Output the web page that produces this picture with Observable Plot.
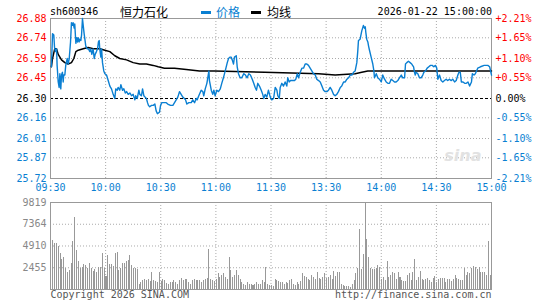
<!DOCTYPE html>
<html><head><meta charset="utf-8">
<script src="https://cdn.jsdelivr.net/npm/d3@7"></script>
<script src="https://cdn.jsdelivr.net/npm/@observablehq/plot@0.6"></script>
<style>
body{margin:0;background:#fff;}
#wrap{position:relative;width:545px;height:300px;overflow:hidden;background:#fff;}
#wrap svg{display:block;}
.hd{position:absolute;white-space:nowrap;}
.mono{font-family:"DejaVu Sans Mono",monospace;font-size:10px;line-height:12px;top:6px;color:#000;}
.cjk{font-family:"Noto Sans CJK SC",sans-serif;font-size:12px;line-height:16px;top:4px;}
.dash{height:3px;width:10px;top:11px;}
</style></head><body><div id="wrap"></div>
<script>
// ---------- data ----------
const stockCode = "sh600346";
const stockName = "恒力石化";
const legendNames = ["价格", "均线"];
const stamp = "2026-01-22 15:00:00";
const prevClose = 26.30;
const priceLabels = ["26.88","26.74","26.59","26.45","26.30","26.16","26.01","25.87","25.72"];
const pctLabels = ["+2.21%","+1.65%","+1.10%","+0.55%","0.00%","-0.55%","-1.10%","-1.65%","-2.21%"];
const timeLabels = ["09:30","10:00","10:30","11:00","11:30","13:30","14:00","14:30","15:00"];
const timeTicks = [0,30,60,90,120,150,180,210,240]; // trading minutes since 09:30
const volLabels = ["9819","7364","4910","2455"];
const copyright = "Copyright 2026 SINA.COM";
const siteUrl = "http://finance.sina.com.cn";

const priceT = [0.5,1.1,1.8,2.2,2.7,3.3,3.6,4.2,4.7,5.1,5.6,6.0,6.5,6.9,7.2,7.8,8.3,9.1,9.6,10.2,10.9,11.4,12.0,12.3,12.9,13.2,13.8,14.3,14.7,15.1,15.6,15.9,16.5,16.9,17.4,17.8,18.3,18.9,19.2,20.0,20.7,21.4,21.9,22.5,23.2,23.8,24.3,25.0,25.6,26.1,26.5,26.8,27.4,27.8,28.3,29.0,29.6,30.5,31.4,32.3,33.2,34.1,35.0,35.5,36.3,36.8,37.7,38.3,39.2,39.9,40.7,41.4,42.3,43.2,44.1,45.0,45.9,46.4,47.2,48.1,48.6,49.5,50.1,50.8,51.5,52.2,52.8,53.3,54.0,55.0,55.9,56.8,57.5,58.2,59.3,59.9,60.6,61.7,63.0,63.8,65.3,66.6,67.5,68.4,69.3,70.2,71.1,72.0,72.9,73.5,74.2,75.3,76.6,77.4,78.4,79.3,79.8,80.7,82.0,82.9,83.4,84.2,85.1,85.6,86.2,86.5,87.5,88.3,88.9,89.6,90.5,91.4,92.4,93.2,94.1,95.1,96.2,96.9,97.6,98.3,98.9,99.6,100.1,101.1,101.6,102.3,103.2,104.1,105.2,106.1,107.0,107.9,108.8,109.8,110.6,111.4,112.1,112.8,113.7,114.7,115.5,116.1,116.8,117.7,118.6,119.6,120.4,121.4,122.3,123.2,123.7,124.5,125.0,125.9,126.8,127.7,128.6,129.1,129.9,130.6,131.7,132.8,133.5,134.3,135.0,135.9,136.8,137.7,138.6,139.5,140.4,141.3,142.2,143.1,144.1,144.9,145.9,146.8,147.7,148.6,149.5,150.4,151.3,152.2,153.1,154.0,154.9,155.8,156.7,157.7,158.5,159.5,160.4,161.3,162.2,163.1,164.0,164.9,165.8,166.7,167.2,167.6,168.5,169.4,170.3,170.9,171.3,171.6,172.1,172.7,173.1,173.6,174.5,175.4,176.0,176.3,177.3,178.1,179.0,180.0,180.8,181.8,182.7,183.6,184.5,185.4,186.3,187.2,188.1,189.0,189.9,190.9,191.7,192.7,193.2,193.9,194.8,195.7,196.6,197.6,198.1,198.5,199.0,199.9,200.8,201.7,202.6,203.2,204.1,205.0,205.9,206.8,207.7,208.6,209.5,210.2,210.8,211.7,212.6,213.5,214.4,215.3,216.2,217.1,218.1,218.9,219.9,220.8,221.7,222.3,223.0,223.6,224.5,225.4,226.3,227.2,228.1,229.1,229.6,230.5,231.2,232.5,234.0,236.0,238.0,239.0,240.0];
const priceV = [26.53,26.77,26.76,26.67,26.64,26.66,26.54,26.42,26.38,26.48,26.37,26.47,26.49,26.42,26.47,26.47,26.54,26.59,26.55,26.59,26.71,26.85,26.83,26.85,26.81,26.84,26.70,26.74,26.71,26.74,26.71,26.73,26.72,26.76,26.88,26.83,26.77,26.71,26.68,26.66,26.66,26.64,26.66,26.62,26.66,26.59,26.62,26.64,26.66,26.71,26.72,26.66,26.60,26.66,26.56,26.50,26.48,26.47,26.43,26.39,26.37,26.33,26.30,26.37,26.36,26.38,26.36,26.40,26.36,26.37,26.34,26.35,26.33,26.34,26.32,26.33,26.29,26.32,26.30,26.36,26.33,26.32,26.37,26.32,26.31,26.30,26.27,26.25,26.24,26.25,26.25,26.26,26.21,26.19,26.20,26.25,26.27,26.27,26.27,26.26,26.25,26.25,26.27,26.29,26.31,26.35,26.33,26.31,26.30,26.29,26.26,26.27,26.27,26.29,26.27,26.30,26.29,26.32,26.36,26.35,26.32,26.37,26.41,26.45,26.50,26.43,26.36,26.33,26.36,26.32,26.36,26.35,26.37,26.41,26.45,26.50,26.56,26.59,26.60,26.60,26.58,26.55,26.60,26.61,26.53,26.48,26.45,26.45,26.48,26.47,26.45,26.48,26.47,26.44,26.41,26.38,26.36,26.41,26.39,26.36,26.33,26.30,26.33,26.31,26.36,26.31,26.29,26.30,26.38,26.36,26.32,26.30,26.38,26.41,26.39,26.42,26.39,26.45,26.42,26.43,26.43,26.43,26.44,26.48,26.45,26.49,26.52,26.52,26.55,26.55,26.54,26.52,26.50,26.48,26.47,26.44,26.43,26.42,26.39,26.36,26.35,26.35,26.36,26.38,26.36,26.33,26.32,26.33,26.35,26.38,26.39,26.42,26.42,26.44,26.45,26.47,26.47,26.49,26.50,26.56,26.64,26.72,26.73,26.79,26.83,26.81,26.82,26.78,26.73,26.71,26.68,26.65,26.60,26.55,26.50,26.45,26.48,26.45,26.44,26.42,26.47,26.44,26.42,26.41,26.41,26.44,26.43,26.42,26.42,26.43,26.45,26.47,26.45,26.45,26.55,26.56,26.57,26.56,26.55,26.53,26.49,26.47,26.49,26.48,26.45,26.45,26.47,26.49,26.50,26.52,26.53,26.54,26.54,26.53,26.54,26.52,26.44,26.47,26.43,26.42,26.43,26.44,26.43,26.44,26.43,26.44,26.42,26.43,26.47,26.49,26.49,26.42,26.42,26.41,26.41,26.42,26.39,26.42,26.48,26.47,26.48,26.52,26.53,26.54,26.54,26.53,26.47];

const avgT = [0.5,1.1,2.3,3.3,4.2,5.1,6.0,7.8,9.6,11.4,12.7,13.8,15.1,17.8,20.5,23.2,26.8,29.6,32.3,35.0,37.7,41.4,45.0,48.6,52.2,55.9,58.6,62.0,67.5,73.9,81.1,89.3,116.5,145.9,154.9,165.8,169.4,172.7,230.7,240.0];
const avgV = [26.53,26.59,26.66,26.66,26.62,26.60,26.58,26.56,26.55,26.56,26.59,26.64,26.65,26.66,26.67,26.66,26.66,26.65,26.64,26.61,26.59,26.58,26.56,26.55,26.55,26.54,26.53,26.52,26.52,26.51,26.50,26.50,26.49,26.48,26.47,26.48,26.49,26.50,26.50,26.50];

const volumes = [1636,5532,5143,5143,4870,4091,3428,3584,2416,1870,2143,2922,5376,8104,4364,3117,2416,2532,2805,2727,2338,2922,2338,2026,2260,1870,2454,2454,4091,2416,1480,3818,2805,2805,2649,4091,4208,2143,2338,2922,2922,3195,3312,3818,2727,2338,2338,2260,584,779,974,1169,974,1169,857,1870,974,857,779,1948,857,1169,974,701,584,779,779,974,779,584,974,1247,974,1169,1091,779,584,974,1091,974,974,974,779,974,1091,1247,4480,1169,974,857,1169,1753,1364,1558,1753,1364,1169,3662,2143,1364,1558,2143,1558,1169,779,584,468,779,584,584,468,584,779,584,584,974,779,2454,584,468,468,390,1169,974,857,779,779,584,779,701,974,1169,584,468,779,584,857,1753,1480,1364,1169,974,1558,1364,1169,1948,1247,1169,1364,1753,1247,1364,1558,1169,2026,1480,1870,1870,584,468,312,390,312,195,584,974,1753,2338,6818,2260,3896,9819,5649,3623,2338,2260,2260,2338,2727,2532,1169,1364,974,3195,1364,1558,1870,1753,1169,1870,1364,974,857,857,1558,1753,974,1870,3390,974,1364,2026,1169,974,1169,1247,974,779,1247,1480,779,1169,1247,1247,1247,779,1091,1169,857,1091,1558,1247,1169,974,974,2338,1558,1870,1753,2338,2649,2532,2260,2532,1870,1948,1870,1636,5376,1636];

// ---------- styles ----------
const W = 545;
const blue = "#0a7fd2", red = "#ff0000", gridC = "#aaaaaa", frameC = "#999999";
const mono = "DejaVu Sans Mono, monospace";
const colorOf = v => v > prevClose + 1e-9 ? red : (v < prevClose - 1e-9 ? blue : "#000000");
const priceRows = priceT.map((t, i) => ({t, v: priceV[i]}));
const avgRows = avgT.map((t, i) => ({t, v: avgV[i]}));
const pRows = priceLabels.map((s, i) => ({v: +s, label: s, pct: pctLabels[i]}));

const main = Plot.plot({
  width: W, height: 195,
  marginLeft: 50, marginRight: 54, marginTop: 18, marginBottom: 17,
  x: {domain: [timeTicks[0], timeTicks[timeTicks.length - 1]], axis: null},
  y: {domain: [+priceLabels[priceLabels.length - 1], +priceLabels[0]], axis: null},
  color: {type: "identity"},
  style: {fontFamily: mono, fontSize: "10px", background: "#fff", overflow: "visible"},
  marks: [
    Plot.ruleY(pRows.filter(d => d.v !== prevClose), {y: "v", stroke: gridC, strokeDasharray: "1,2"}),
    Plot.ruleX(timeTicks.slice(1, -1), {stroke: gridC, strokeDasharray: "1,2"}),
    Plot.ruleY([prevClose], {stroke: "#000", strokeDasharray: "3,2"}),
    Plot.text(["sina"], {frameAnchor: "bottom-right", dx: -10, dy: -18, fill: "#e2e2e2", fontSize: 16, fontWeight: "bold", fontStyle: "italic", fontFamily: "DejaVu Sans"}),
    Plot.frame({stroke: frameC}),
    Plot.line(avgRows, {x: "t", y: "v", stroke: "#000", strokeWidth: 1.5, curve: "linear"}),
    Plot.line(priceRows, {x: "t", y: "v", stroke: blue, strokeWidth: 1.4}),
    Plot.text(pRows, {y: "v", text: "label", frameAnchor: "left", textAnchor: "end", dx: -4, fill: d => colorOf(d.v)}),
    Plot.text(pRows, {y: "v", text: "pct", frameAnchor: "right", textAnchor: "start", dx: 4, fill: d => colorOf(d.v)}),
    Plot.text(timeLabels, {x: (d, i) => timeTicks[i], text: d => d, frameAnchor: "bottom", dy: 12.5, fill: blue})
  ]
});

const volRows = volumes.map((v, i) => ({i, v}));
const vol = Plot.plot({
  width: W, height: 105,
  marginLeft: 50, marginRight: 54, marginTop: 7, marginBottom: 11,
  x: {domain: [timeTicks[0], timeTicks[timeTicks.length - 1]], axis: null},
  y: {domain: [0, +volLabels[0]], axis: null},
  style: {fontFamily: mono, fontSize: "10px", background: "#fff", overflow: "visible"},
  marks: [
    Plot.ruleY(volLabels.slice(1).map(Number), {stroke: gridC, strokeDasharray: "1,2"}),
    Plot.ruleX(timeTicks.slice(1, -1), {stroke: gridC, strokeDasharray: "1,2"}),
    Plot.rectY(volRows, {x1: d => d.i + 0.2, x2: d => d.i + 0.75, y: "v", fill: "#999999", shapeRendering: "crispEdges"}),
    Plot.frame({stroke: frameC}),
    Plot.text(volLabels, {y: d => +d, text: d => d, frameAnchor: "left", textAnchor: "end", dx: -4, fill: "#888888"}),
    Plot.text([copyright], {frameAnchor: "bottom-left", textAnchor: "start", dy: 8, fill: "#555555"}),
    Plot.text([siteUrl], {frameAnchor: "bottom-right", textAnchor: "end", dy: 8, fill: "#555555"})
  ]
});

const wrap = document.getElementById("wrap");
wrap.appendChild(main);
wrap.appendChild(vol);

function addSpan(cls, text, style) {
  const s = document.createElement("div");
  s.className = "hd " + cls;
  s.textContent = text;
  Object.assign(s.style, style || {});
  wrap.appendChild(s);
  return s;
}
addSpan("mono", stockCode, {left: "50px"});
addSpan("cjk", stockName, {left: "120px"});
addSpan("dash", "", {left: "201px", background: blue});
addSpan("cjk", legendNames[0], {left: "216px", color: blue});
addSpan("dash", "", {left: "251px", background: "#000"});
addSpan("cjk", legendNames[1], {left: "267px", color: "#000"});
addSpan("mono", stamp, {right: "53px"});
</script>
</body></html>
